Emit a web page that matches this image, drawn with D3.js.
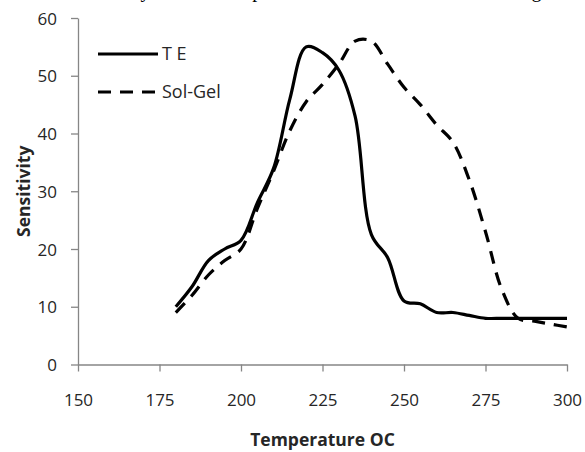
<!DOCTYPE html>
<html>
<head>
<meta charset="utf-8">
<script src="https://cdn.jsdelivr.net/npm/d3@7"></script>
<style>
  html, body { margin: 0; padding: 0; background: #fff; }
  svg { display: block; }
</style>
</head>
<body>
<svg id="chart" width="585" height="452"></svg>
<script>
// ---- data ----
const temperature = [180,185,190,195,200,205,210,215,220,225,230,235,240,245,250,255,260,265,270,275,280,285,290,295,300];
const teValues     = [10,13.5,18,20,21.5,28,34,46,55,54,51,43,22.5,18.5,11,10.5,9,9,8.5,8,8,8,8,8,8];
const solGelValues = [9,12,15.5,18,20,27,33.5,40.5,45.5,48.5,52,56,56,52,48,45,41.5,38.5,32,23,13,8,7.5,7,6.5];
const xTicks = [150,175,200,225,250,275,300];
const yTicks = [0,10,20,30,40,50,60];
const seriesNames = ["T E", "Sol-Gel"];
const xTitle = "Temperature OC";
const yTitle = "Sensitivity";
const topLine = "the sensitivity with temperature is shown in the figure";

const svg = d3.select("#chart");
const font = "'Open Sans', sans-serif";
const axisColor = "#868686";
const textColor = "#262626";

const x = d3.scaleLinear().domain([150, 300]).range([78, 567]);
const y = d3.scaleLinear().domain([0, 60]).range([364.5, 18]);

// partially visible text line at top (cut off by the image edge in the reference)
svg.append("text")
  .attr("x", 2).attr("y", -3)
  .attr("textLength", 573).attr("lengthAdjust", "spacing")
  .style("font-family", "'Liberation Serif', serif")
  .style("font-size", "20px")
  .attr("fill", "#000")
  .text(topLine);

// axes
const xAxis = d3.axisBottom(x).tickValues(xTicks).tickSize(7).tickPadding(18).tickSizeOuter(0);
const yAxis = d3.axisLeft(y).tickValues(yTicks).tickSize(7).tickPadding(14).tickSizeOuter(0);

const gx = svg.append("g").attr("transform", `translate(0,${y(0)})`).call(xAxis);
const gy = svg.append("g").attr("transform", `translate(${x(150)},0)`).call(yAxis);

[gx, gy].forEach(g => {
  g.select(".domain").attr("stroke", axisColor).attr("stroke-width", 1.3);
  g.selectAll(".tick line").attr("stroke", axisColor).attr("stroke-width", 1.3);
  g.selectAll(".tick text")
    .style("font-family", font).style("font-size", "17px")
    .attr("fill", textColor);
});
gx.selectAll(".tick text").attr("dy", "0.95em");
gy.selectAll(".tick text").attr("dy", "0.36em");

// axis titles
svg.append("text")
  .attr("x", (x(150) + x(300)) / 2).attr("y", 446)
  .attr("text-anchor", "middle")
  .style("font-family", font).style("font-size", "17.5px").style("font-weight", "bold")
  .attr("fill", textColor)
  .text(xTitle);

svg.append("text")
  .attr("transform", `translate(30,${(y(0) + y(60)) / 2}) rotate(-90)`)
  .attr("text-anchor", "middle")
  .style("font-family", font).style("font-size", "17.5px").style("font-weight", "bold")
  .attr("fill", textColor)
  .text(yTitle);

// lines
const line = d3.line()
  .x(d => x(d[0]))
  .y(d => y(d[1]))
  .curve(d3.curveCatmullRom.alpha(0.5));

const teData = temperature.map((t, i) => [t, teValues[i]]);
const sgData = temperature.map((t, i) => [t, solGelValues[i]]);

svg.append("path")
  .datum(sgData)
  .attr("d", line)
  .attr("fill", "none")
  .attr("stroke", "#000")
  .attr("stroke-width", 3.2)
  .attr("stroke-dasharray", "13,9");

svg.append("path")
  .datum(teData)
  .attr("d", line)
  .attr("fill", "none")
  .attr("stroke", "#000")
  .attr("stroke-width", 3.2)
  .attr("stroke-linejoin", "round");

// legend
const legend = svg.append("g");
const legendRows = [
  { name: seriesNames[0], dash: null, y: 54 },
  { name: seriesNames[1], dash: "13,9", y: 92 }
];
legendRows.forEach(r => {
  legend.append("line")
    .attr("x1", 98).attr("x2", 158)
    .attr("y1", r.y).attr("y2", r.y)
    .attr("stroke", "#000").attr("stroke-width", 3.2)
    .attr("stroke-dasharray", r.dash);
  legend.append("text")
    .attr("x", 162).attr("y", r.y)
    .attr("dy", "0.36em")
    .style("font-family", font).style("font-size", "18px")
    .attr("fill", textColor)
    .text(r.name);
});
</script>
</body>
</html>
